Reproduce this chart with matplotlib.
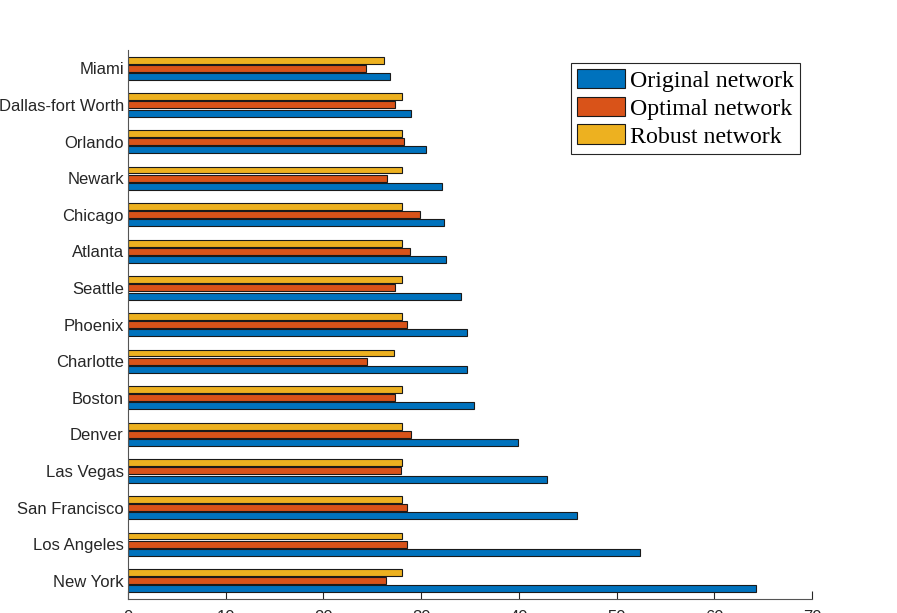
import numpy as np
import matplotlib
matplotlib.use("Agg")
import matplotlib.pyplot as plt

# airports listed bottom -> top
airports = ["New York", "Los Angeles", "San Francisco", "Las Vegas", "Denver", "Boston",
            "Charlotte", "Phoenix", "Seattle", "Atlanta", "Chicago", "Newark", "Orlando",
            "Dallas-fort Worth", "Miami"]
original = [64.3, 52.4, 46.0, 42.9, 39.9, 35.4, 34.7, 34.7, 34.1, 32.5, 32.3, 32.1, 30.5, 29.0, 26.8]
optimal = [26.4, 28.6, 28.6, 27.9, 29.0, 27.3, 24.5, 28.6, 27.3, 28.9, 29.9, 26.5, 28.2, 27.3, 24.4]
robust = [28.0, 28.0, 28.0, 28.0, 28.0, 28.0, 27.2, 28.0, 28.0, 28.0, 28.0, 28.0, 28.0, 28.0, 26.2]
series = [("Original network", original, "#0072BD"),
          ("Optimal network", optimal, "#D95319"),
          ("Robust network", robust, "#EDB120")]
xticks = [0, 10, 20, 30, 40, 50, 60, 70]

fig = plt.figure(figsize=(8.97, 6.13), dpi=100)
ax = fig.add_axes([0.1427, 0.0228, 0.7625, 0.8956])
y = np.arange(1, len(airports) + 1)
h = 0.19
for k, (lab, vals, col) in enumerate(series):
    ax.barh(y + (k - 1) * 0.222, vals, height=h, color=col, edgecolor="#1a1a1a", lw=0.8, label=lab, zorder=2)

ax.set_xlim(0, 70); ax.set_ylim(0.5, 15.5)
ax.set_xticks(xticks); ax.set_yticks(y); ax.set_yticklabels(airports)
for s in ("top", "right"): ax.spines[s].set_visible(False)
for s in ("left", "bottom"): ax.spines[s].set_color("#555555"); ax.spines[s].set_linewidth(0.8)
ax.tick_params(axis="both", direction="in", colors="#262626", labelsize=12, width=0.8)
ax.tick_params(axis="x", length=6, pad=8)
ax.tick_params(axis="y", length=5, pad=3)
for t in ax.get_xticklabels() + ax.get_yticklabels(): t.set_fontfamily("Liberation Sans")

leg = ax.legend(loc="upper right", bbox_to_anchor=(0.983, 0.977), prop={"family": "Liberation Serif", "size": 17.2},
                frameon=True, fancybox=False, edgecolor="#262626", framealpha=1,
                handlelength=2.0, handleheight=0.9, handletextpad=0.23, labelspacing=0.2, borderpad=0.25,
                borderaxespad=0)
leg.get_frame().set_linewidth(0.8)

fig.savefig("out.png", dpi=100)
